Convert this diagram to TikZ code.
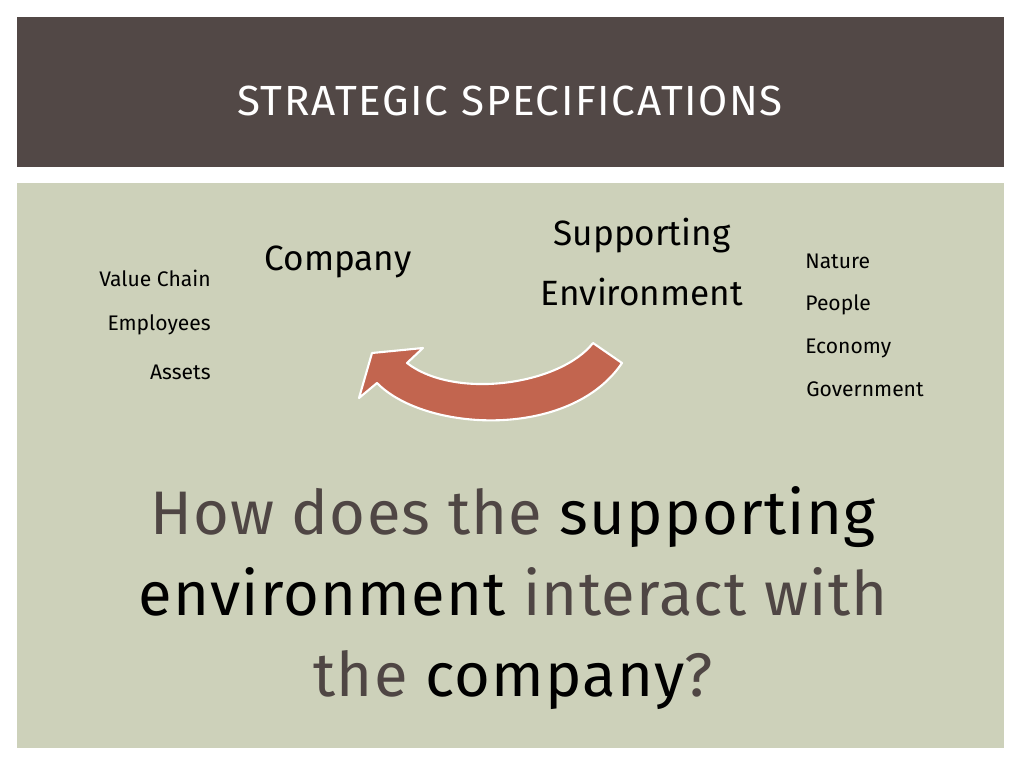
\documentclass[tikz,border=0pt]{standalone}
\usepackage{fontspec}
\setmainfont{Fira Sans}
\definecolor{band}{HTML}{524846}
\definecolor{panel}{HTML}{CDD1BA}
\definecolor{arrowred}{HTML}{C2654F}
\definecolor{greytext}{HTML}{4F4644}
\tikzset{
  label/.style = {font=\fontsize{12}{14}\selectfont, inner sep=0pt},
  heading/.style = {font=\fontsize{20}{24}\selectfont, inner sep=0pt, align=center}
}
\begin{document}
\begin{tikzpicture}[x=0.02cm,y=-0.02cm]
  \useasboundingbox (0,0) rectangle (1024,768);
  % background
  \fill[band] (17,17) rectangle (1004,167);
  \fill[panel] (17,183) rectangle (1004,748);
  \node[text=white,font=\fontsize{24}{28}\selectfont\addfontfeature{LetterSpace=4}] (title) at (510,101) {STRATEGIC SPECIFICATIONS};
  % headings
  \node[heading] (company) at (338,262) {Company};
  \node[heading,font=\fontsize{20}{34}\selectfont] (env) at (642,262) {Supporting\\Environment};
  % company side
  \node[label,anchor=east] (chain) at (211,278) {Value Chain};
  \node[label,anchor=east] (staff) at (211,325) {Employees};
  \node[label,anchor=east] (assets) at (211,372) {Assets};
  % environment side
  \node[label,anchor=west] (nature) at (805,261) {Nature};
  \node[label,anchor=west] (people) at (805,305) {People};
  \node[label,anchor=west] (economy) at (805,348) {Economy};
  \node[label,anchor=west] (gov) at (806,389) {Government};
  % curved arrow
  \draw[white,line width=1.2pt,fill=arrowred,line join=round]
    (593,343) .. controls (560,385) and (455,400) .. (407,363)
    -- (423,348) -- (372,353) -- (359,398) -- (377,383)
    .. controls (425,432) and (570,440) .. (622,363) -- cycle;
  % question
  \node[font=\fontsize{35}{46}\selectfont\addfontfeature{LetterSpace=2},align=center,text=greytext] (question) at (513,598)
    {How does the \textcolor{black}{supporting}\\\textcolor{black}{environment} interact with\\the \textcolor{black}{company}?};
\end{tikzpicture}
\end{document}
